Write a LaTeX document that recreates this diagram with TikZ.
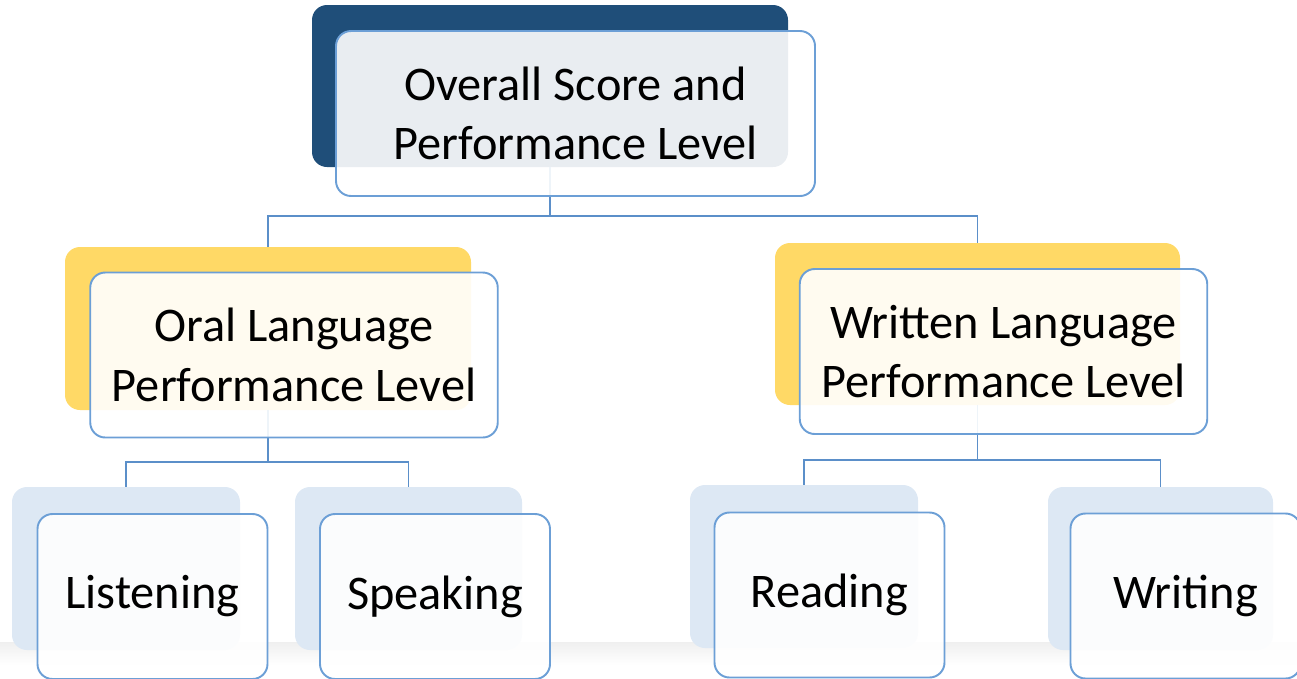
\documentclass[tikz,border=0pt]{standalone}
\usepackage{fontspec}
\setmainfont{Carlito}
\usepackage{tikz}
\usetikzlibrary{positioning,backgrounds}
\definecolor{darkblue}{HTML}{1F4E79}
\definecolor{gold}{HTML}{FFD966}
\definecolor{paleblue}{HTML}{DDE8F4}
\definecolor{edgeblue}{HTML}{6C9FD6}
\definecolor{linkblue}{HTML}{5B8FC9}

\begin{document}
\begin{tikzpicture}[
    back/.style = {rectangle, rounded corners=0.3cm, inner sep=0pt},
    front/.style = {rectangle, draw=edgeblue, line width=1.1pt, rounded corners=0.3cm, fill=white, fill opacity=0.9, text opacity=1, align=center, inner sep=0pt, font=\fontsize{27.5}{34}\selectfont},
    big/.style = {minimum width=8.15cm, minimum height=3.3cm},
    small/.style = {minimum width=4.6cm, minimum height=3.3cm},
    link/.style = {draw=linkblue, line width=1.1pt}
]
    \useasboundingbox (0,0) rectangle (25.94,-13.56);
    % floor shadow
    \fill[top color=gray!12, bottom color=white] (0,-12.85) rectangle (25.94,-13.3);

    % back plates
    \node[back, fill=darkblue, minimum width=9.52cm, minimum height=3.24cm] (overallback) at (11.0,-1.72) {};
    \node[back, fill=gold, minimum width=8.12cm, minimum height=3.26cm] (oralback) at (5.36,-6.57) {};
    \node[back, fill=gold, minimum width=8.1cm, minimum height=3.24cm] (writtenback) at (19.55,-6.48) {};
    \node[back, fill=paleblue, minimum width=4.56cm, minimum height=3.26cm] (listenback) at (2.52,-11.37) {};
    \node[back, fill=paleblue, minimum width=4.54cm, minimum height=3.26cm] (speakback) at (8.17,-11.37) {};
    \node[back, fill=paleblue, minimum width=4.56cm, minimum height=3.26cm] (readback) at (16.08,-11.33) {};
    \node[back, fill=paleblue, minimum width=4.5cm, minimum height=3.26cm] (writeback) at (23.21,-11.37) {};

    % connectors
    \draw[link] (overallback.south) -- ++(0,-0.98) coordinate (split) -| (oralback.north);
    \draw[link] (split) -| (writtenback.north);
    \draw[link] (oralback.south) -- ++(0,-1.04) coordinate (oralsplit) -| (listenback.north);
    \draw[link] (oralsplit) -| (speakback.north);
    \draw[link] (writtenback.south) -- ++(0,-1.1) coordinate (writtensplit) -| (readback.north);
    \draw[link] (writtensplit) -| (writeback.north);

    % front boxes
    \node[front, minimum width=9.58cm, minimum height=3.3cm] (overall) at (11.51,-2.27) {Overall Score and\\Performance Level};
    \node[front, big] (oral) at (5.88,-7.1) {Oral Language\\Performance Level};
    \node[front, big] (written) at (20.07,-7.03) {Written Language\\Performance Level};
    \node[front, small] (listen) at (3.05,-11.93) {Listening};
    \node[front, small] (speak) at (8.7,-11.93) {Speaking};
    \node[front, small] (read) at (16.59,-11.9) {Reading};
    \node[front, small] (write) at (23.71,-11.92) {Writing};
\end{tikzpicture}
\end{document}
